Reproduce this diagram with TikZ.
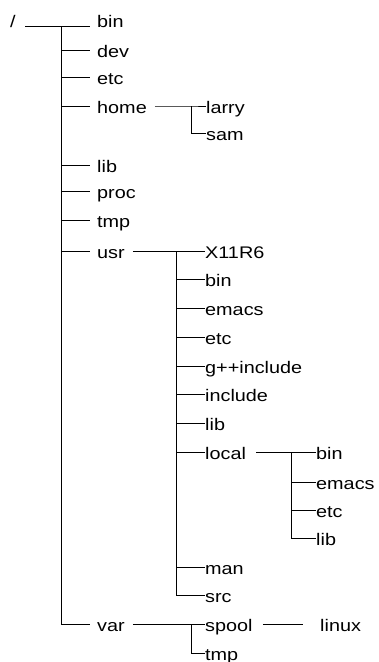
\documentclass[tikz,border=0pt]{standalone}
\usepackage{fontspec}
\setmainfont{Liberation Sans}[FakeStretch=1.18]
\begin{document}
\begin{tikzpicture}[x=1pt,y=-1pt,
  lbl/.style={anchor=west,inner sep=0pt,text height=14pt,text depth=0pt,font=\fontsize{16.8}{18}\selectfont},
  ln/.style={draw=black,line width=0.8pt}]
\useasboundingbox (0,0) rectangle (379,662);
% level 0 / 1
\node[lbl] (root) at (10,20) {/};
\node[lbl] (bin) at (97,20) {bin};
\node[lbl] (dev) at (97,50) {dev};
\node[lbl] (etc) at (97,77) {etc};
\node[lbl] (home) at (97,106) {home};
\node[lbl] (lib) at (97,165) {lib};
\node[lbl] (proc) at (97,191) {proc};
\node[lbl] (tmp) at (97,220) {tmp};
\node[lbl] (usr) at (97,251) {usr};
\node[lbl] (var) at (97,624) {var};
% home children
\node[lbl] (larry) at (206,106) {larry};
\node[lbl] (sam) at (206,133) {sam};
% usr children
\node[lbl] (ux) at (205,251) {X11R6};
\node[lbl] (ubin) at (205,279) {bin};
\node[lbl] (uemacs) at (205,308) {emacs};
\node[lbl] (uetc) at (205,337) {etc};
\node[lbl] (ugpp) at (205,366) {g++include};
\node[lbl] (uinc) at (205,394) {include};
\node[lbl] (ulib) at (205,423) {lib};
\node[lbl] (ulocal) at (205,452) {local};
\node[lbl] (uman) at (205,567) {man};
\node[lbl] (usrc) at (205,595) {src};
% local children
\node[lbl] (lbin) at (316,452) {bin};
\node[lbl] (lemacs) at (316,482) {emacs};
\node[lbl] (letc) at (316,510) {etc};
\node[lbl] (llib) at (316,538) {lib};
% var children
\node[lbl] (spool) at (205,624) {spool};
\node[lbl] (vtmp) at (205,653) {tmp};
\node[lbl] (linux) at (320,624) {linux};
% junctions
\coordinate (rootL) at (25,26);
\coordinate (rootR) at (90,26);
\coordinate (trunk) at (61,26);
\coordinate (trunkEnd) at (61,624);
\coordinate (hj) at (191,106);
\coordinate (uj) at (176,251);
\coordinate (lj) at (291,452);
\coordinate (vj) at (191,624);
% connectors
\draw[ln] (rootL) -- (rootR);
\draw[ln] (trunk) -- (trunkEnd) -- ([xshift=-7pt]var.west);
\foreach \n in {dev,etc,home,lib,proc,tmp,usr}
  \draw[ln] (trunk |- \n.west) -- ([xshift=-7pt]\n.west);
\draw[ln] ([xshift=8pt]home.east) -- (hj) -- (larry.west);
\draw[ln] (hj) |- (sam.west);
\draw[ln] ([xshift=8pt]usr.east) -- (ux.west);
\draw[ln] (uj) |- (usrc.west);
\foreach \n in {ubin,uemacs,uetc,ugpp,uinc,ulib,ulocal,uman}
  \draw[ln] (uj |- \n.west) -- (\n.west);
\draw[ln] ([xshift=10pt]ulocal.east) -- (lbin.west);
\draw[ln] (lj) |- (llib.west);
\foreach \n in {lemacs,letc}
  \draw[ln] (lj |- \n.west) -- (\n.west);
\draw[ln] ([xshift=8pt]var.east) -- (spool.west);
\draw[ln] (vj) |- (vtmp.west);
\draw[ln] ([xshift=10pt]spool.east) -- ([xshift=-17pt]linux.west);
\end{tikzpicture}
\end{document}
